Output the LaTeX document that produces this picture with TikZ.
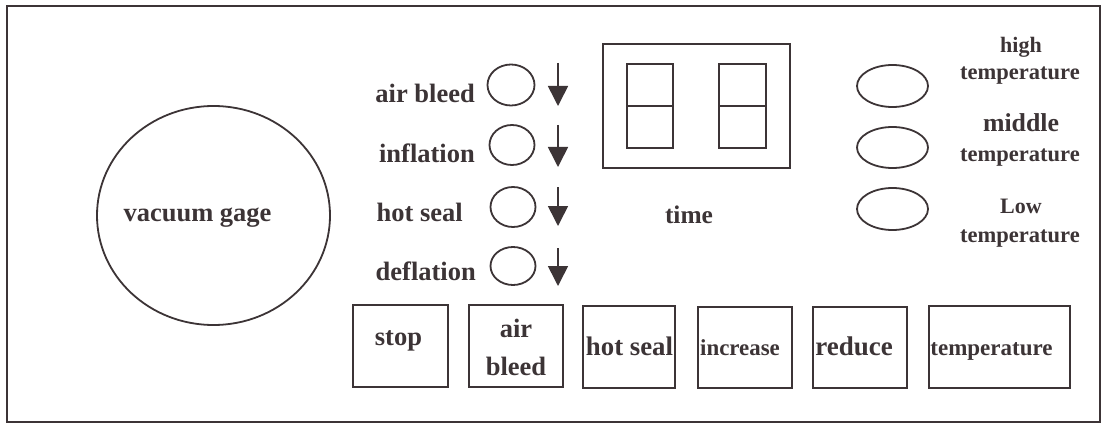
\documentclass[tikz,border=0pt]{standalone}
\usepackage{fontspec}
\setmainfont{Liberation Serif}
\usetikzlibrary{shapes.geometric,arrows.meta}
\definecolor{ink}{HTML}{3C3436}
\begin{document}
\begin{tikzpicture}[x=1pt,y=-1pt,
  txt/.style={inner sep=0pt,text=ink,font=\bfseries\fontsize{#1}{#1}\selectfont},
  txt/.default=26.5,
  oval/.style={draw=ink,line width=1.8pt,ellipse,inner sep=0pt},
  btn/.style={draw=ink,line width=1.8pt,rectangle,inner sep=0pt},
  arr/.style={draw=ink,line width=1.6pt,-{Triangle[length=20pt,width=20pt]}},
]
\useasboundingbox[fill=white] (0,0) rectangle (1106,425);
\node[draw=ink,line width=1.5pt,rectangle,inner sep=0pt,minimum width=1093pt,minimum height=416pt] (frame) at (553.5,214) {};

% vacuum gage
\node[oval,minimum width=233pt,minimum height=219pt] (gage) at (213.5,215.5) {};
\node[txt,anchor=base] (gagetxt) at (197.5,222) {vacuum gage};

% left labels
\node[txt,anchor=base east] (lab1) at (475,103) {air bleed};
\node[txt,anchor=base east] (lab2) at (475,163) {inflation};
\node[txt,anchor=base east] (lab3) at (463,222) {hot seal};
\node[txt,anchor=base east] (lab4) at (476,280) {deflation};

% small indicator circles
\node[oval,minimum width=47pt,minimum height=41pt] (led1) at (511,85) {};
\node[oval,minimum width=45pt,minimum height=40pt] (led2) at (512,145) {};
\node[oval,minimum width=45pt,minimum height=40pt] (led3) at (513,207) {};
\node[oval,minimum width=45pt,minimum height=38pt] (led4) at (513,266) {};

% arrows
\coordinate (a1s) at (558,63);  \coordinate (a1e) at (558,106);
\coordinate (a2s) at (558,125); \coordinate (a2e) at (558,167);
\coordinate (a3s) at (558,187); \coordinate (a3e) at (558,226);
\coordinate (a4s) at (558,248); \coordinate (a4e) at (558,286);
\draw[arr] (a1s) -- (a1e);
\draw[arr] (a2s) -- (a2e);
\draw[arr] (a3s) -- (a3e);
\draw[arr] (a4s) -- (a4e);

% timer display
\node[btn,minimum width=187pt,minimum height=124pt] (disp) at (696.5,106) {};
\node[btn,minimum width=46pt,minimum height=84pt] (dig1) at (650,106) {};
\node[btn,minimum width=47pt,minimum height=84pt] (dig2) at (742.5,106) {};
\draw[ink,line width=1.8pt] (dig1.west) -- (dig1.east);
\draw[ink,line width=1.8pt] (dig2.west) -- (dig2.east);
\node[txt=25.4,anchor=base] (timetxt) at (689,223) {time};

% temperature indicators
\node[oval,minimum width=71pt,minimum height=42pt] (t1) at (892.5,86) {};
\node[oval,minimum width=71pt,minimum height=41pt] (t2) at (892.5,147.5) {};
\node[oval,minimum width=71pt,minimum height=42pt] (t3) at (892.5,209) {};
\node[txt=22,anchor=base] (th1) at (1021,53) {high};
\node[txt=22.5,anchor=base] (th2) at (1020,80) {temperature};
\node[txt=25.8,anchor=base] (tm1) at (1021,132) {middle};
\node[txt=22.5,anchor=base] (tm2) at (1020,162) {temperature};
\node[txt=22,anchor=base] (tl1) at (1021,213) {Low};
\node[txt=22.5,anchor=base] (tl2) at (1020,242) {temperature};

% buttons
\node[btn,minimum width=95pt,minimum height=82pt] (bstop) at (400.5,346) {};
\node[btn,minimum width=94pt,minimum height=82pt] (bair) at (516,346) {};
\node[btn,minimum width=92pt,minimum height=82pt] (bhot) at (629,347) {};
\node[btn,minimum width=94pt,minimum height=81pt] (binc) at (745,347.5) {};
\node[btn,minimum width=94pt,minimum height=81pt] (bred) at (860,347.5) {};
\node[btn,minimum width=141pt,minimum height=82pt] (btem) at (999.5,347) {};

\node[txt,anchor=base] (tstop) at (398.5,345) {stop};
\node[txt,anchor=base] (tair1) at (516,337) {air};
\node[txt,anchor=base] (tair2) at (516,375) {bleed};
\node[txt=26.8,anchor=base] (thot) at (629.5,355) {hot seal};
\node[txt=22.9,anchor=base] (tinc) at (740,355) {increase};
\node[txt=27,anchor=base] (tred) at (854,355) {reduce};
\node[txt=23,anchor=base] (ttem) at (991.5,355) {temperature};
\end{tikzpicture}
\end{document}
